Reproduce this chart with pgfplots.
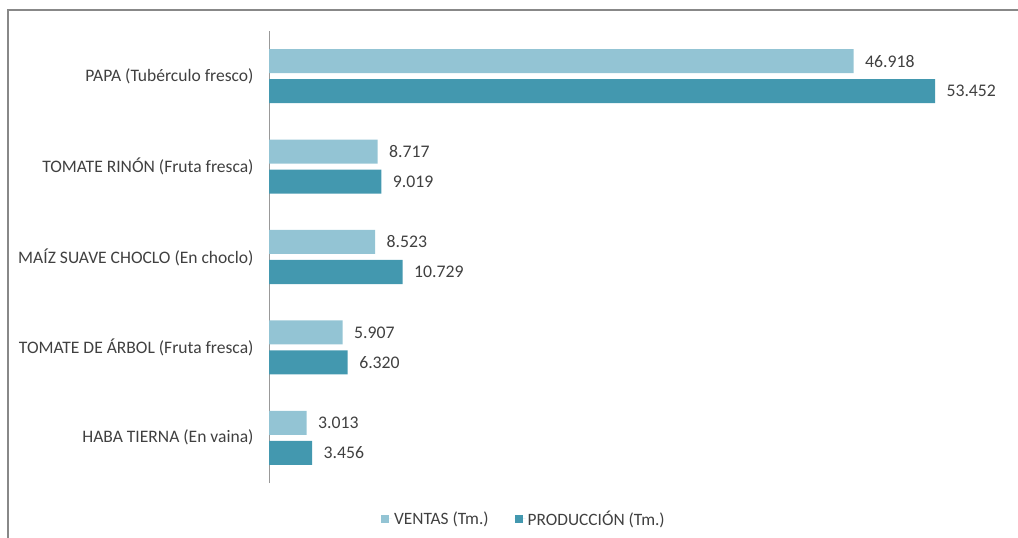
\documentclass[border=0pt]{standalone}
\usepackage{pgfplots}
\pgfplotsset{compat=1.18}
\usepackage{fontspec}
\setmainfont{Carlito}
\definecolor{ventas}{RGB}{147,196,212}
\definecolor{prod}{RGB}{67,152,175}
\definecolor{txt}{RGB}{64,64,64}
\definecolor{marco}{RGB}{136,136,136}
\begin{document}
\begin{tikzpicture}[x=1bp,y=1bp]
\begin{axis}[
  at={(269bp,55bp)}, anchor=south west,
  scale only axis, width=747.6bp, height=452bp,
  xbar, bar width=24bp,
  xmin=0, xmax=60, ymin=-0.5, ymax=4.5,
  axis x line=none,
  axis y line=left,
  axis line style={-},
  y axis line style={draw=black!40, line width=0.8bp},
  ytick={0,1,2,3,4},
  yticklabels={HABA TIERNA (En vaina),TOMATE DE ÁRBOL (Fruta fresca),MAÍZ SUAVE CHOCLO (En choclo),TOMATE RINÓN (Fruta fresca),PAPA (Tubérculo fresco)},
  major tick length=0pt,
  yticklabel style={font=\fontsize{17.6}{20}\selectfont, text=txt, xshift=-12bp},
  point meta=explicit symbolic,
  nodes near coords,
  nodes near coords style={font=\fontsize{17.8}{20}\selectfont, text=txt, anchor=west, xshift=8bp},
  legend columns=2,
  legend style={at={(0.341,-0.0796)}, anchor=center, draw=none, fill=none,
    font=\fontsize{17.4}{20}\selectfont, text=txt,
    /tikz/every even column/.append style={column sep=24bp}},
  legend image code/.code={\fill[#1] (0bp,-4bp) rectangle (8bp,4bp); \path (0bp,0bp) -- (11bp,0bp);},
]
\addplot[draw=none, fill=ventas, bar shift=15bp] coordinates {
  (3.013,0) [3.013]
  (5.907,1) [5.907]
  (8.523,2) [8.523]
  (8.717,3) [8.717]
  (46.918,4) [46.918]
};
\addplot[draw=none, fill=prod, bar shift=-15bp] coordinates {
  (3.456,0) [3.456]
  (6.320,1) [6.320]
  (10.729,2) [10.729]
  (9.019,3) [9.019]
  (53.452,4) [53.452]
};
\legend{VENTAS (Tm.),PRODUCCIÓN (Tm.)}
\end{axis}
\draw[marco, line width=1.5bp] (8bp,0bp) -- (8bp,528bp) -- (1018bp,528bp);
\pgfresetboundingbox
\useasboundingbox (0bp,0bp) rectangle (1018bp,538bp);
\end{tikzpicture}
\end{document}
